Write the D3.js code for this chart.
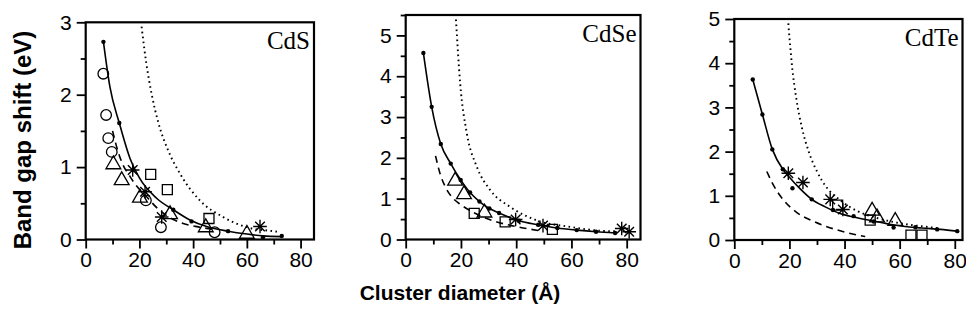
<!DOCTYPE html>
<html><head><meta charset="utf-8">
<script src="https://cdn.jsdelivr.net/npm/d3@7"></script>
<style>
html,body{margin:0;padding:0;background:#fff;}
svg{display:block;}
</style></head>
<body>
<svg id="chart" width="966" height="325"></svg>
<script>
// ---------- DATA ----------
const panelNames = ["CdS", "CdSe", "CdTe"];
const xTickValues = [0, 20, 40, 60, 80];
const xMinorTicks = [10, 30, 50, 70];
const yLabel = "Band gap shift (eV)";
const xLabel = "Cluster diameter (Å)";

// CdS
const cdsSolidX = [6.6, 9, 12.5, 16.5, 20, 26.4, 32.6, 38.8, 45, 53, 60, 66, 73];
const cdsSolidY = [2.73, 2.11, 1.61, 1.12, 0.85, 0.57, 0.41, 0.27, 0.18, 0.115, 0.075, 0.05, 0.04];
const cdsDotX = [6.6, 12.5, 32.6, 39.4, 53, 66, 73];
const cdsDotY = [2.73, 1.61, 0.41, 0.25, 0.115, 0.03, 0.05];
const cdsDashX = [10, 12, 14, 16, 18.3, 22.7, 27, 31.4, 36.3, 42.6, 48.8];
const cdsDashY = [1.5, 1.22, 1.02, 0.9, 0.77, 0.59, 0.42, 0.3, 0.22, 0.17, 0.13];
const cdsDotLineX = [20.8, 22.5, 24.6, 27, 30.7, 35.1, 42.5, 51.2, 59.9, 68.6, 72.3];
const cdsDotLineY = [2.94, 2.45, 2.0, 1.62, 1.23, 0.91, 0.54, 0.31, 0.17, 0.12, 0.105];
const cdsCircleX = [6.55, 7.6, 8.4, 9.7, 22.4, 28, 48];
const cdsCircleY = [2.29, 1.72, 1.4, 1.21, 0.54, 0.17, 0.1];
const cdsTriangleX = [10.3, 13.4, 20.2, 31.4, 44.7, 60];
const cdsTriangleY = [1.05, 0.83, 0.59, 0.36, 0.18, 0.09];
const cdsSquareX = [24.2, 30.4, 45.9];
const cdsSquareY = [0.9, 0.69, 0.29];
const cdsStarX = [17.5, 22.1, 28.3, 64.9];
const cdsStarY = [0.96, 0.66, 0.31, 0.18];

// CdSe
const cdseSolidX = [6.4, 9.4, 12.7, 16.3, 19.9, 23.3, 26.7, 30.3, 33.8, 41, 48, 54.9, 61.9, 68.9, 75.8];
const cdseSolidY = [4.57, 3.25, 2.34, 1.86, 1.46, 1.15, 0.93, 0.76, 0.65, 0.46, 0.36, 0.28, 0.23, 0.19, 0.16];
const cdseDotX = cdseSolidX;
const cdseDotY = cdseSolidY;
const cdseDashX = [10.8, 12.5, 14.5, 17, 20, 24, 28, 32, 37, 42, 48];
const cdseDashY = [2.05, 1.6, 1.27, 1.02, 0.85, 0.68, 0.55, 0.45, 0.36, 0.29, 0.22];
const cdseDotLineX = [18.2, 19.7, 22.1, 25.7, 30.6, 37.8, 47.4, 59.5, 71.5, 77];
const cdseDotLineY = [5.39, 3.84, 2.61, 1.79, 1.21, 0.8, 0.47, 0.31, 0.21, 0.2];
const cdseCircleX = [];
const cdseCircleY = [];
const cdseTriangleX = [17.9, 21.1, 28.5];
const cdseTriangleY = [1.46, 1.13, 0.68];
const cdseSquareX = [24.8, 36.0, 53.1];
const cdseSquareY = [0.64, 0.43, 0.25];
const cdseStarX = [39.8, 49.7, 78.2, 80.9];
const cdseStarY = [0.49, 0.34, 0.27, 0.19];

// CdTe
const cdteSolidX = [6.7, 10.2, 13.8, 17.6, 20, 24, 28.1, 33, 38.4, 43.3, 50.6, 57, 62.7, 68, 74.8, 80.9];
const cdteSolidY = [3.63, 2.84, 2.05, 1.6, 1.42, 1.15, 0.92, 0.75, 0.6, 0.52, 0.43, 0.35, 0.3, 0.27, 0.24, 0.2];
const cdteDotX = [6.7, 10.2, 13.8, 17.6, 21.1, 28.1, 35.8, 43.3, 50.6, 57.8, 65.7, 73.6, 80.9];
const cdteDotY = [3.63, 2.84, 2.05, 1.6, 1.17, 0.92, 0.68, 0.54, 0.42, 0.28, 0.29, 0.24, 0.2];
const cdteDashX = [11.8, 14.2, 17.9, 22.7, 28.1, 33.6, 38.4, 43.3, 47.5];
const cdteDashY = [1.55, 1.24, 0.9, 0.62, 0.44, 0.3, 0.21, 0.13, 0.08];
const cdteDotLineX = [19.6, 21, 22.5, 24.5, 27, 30, 34, 38.4, 44.5, 50.5, 56, 62, 68, 74];
const cdteDotLineY = [4.9, 3.9, 3.2, 2.55, 2.0, 1.55, 1.15, 0.9, 0.66, 0.52, 0.43, 0.36, 0.31, 0.27];
const cdteCircleX = [];
const cdteCircleY = [];
const cdteTriangleX = [50, 51.8, 58.4];
const cdteTriangleY = [0.68, 0.53, 0.45];
const cdteSquareX = [37.5, 49.3, 64.1, 68.1];
const cdteSquareY = [0.79, 0.45, 0.11, 0.11];
const cdteStarX = [19.6, 24.9, 34.8, 39.4];
const cdteStarY = [1.51, 1.3, 0.92, 0.69];

const yMaxes = [3, 5.5, 5];
const xMaxes = [85, 85, 82.8];

// ---------- LAYOUT ----------
const boxes = [
  {left: 85.7, right: 314, top: 22.3, bottom: 239.5},
  {left: 405.7, right: 640.5, top: 15, bottom: 239.5},
  {left: 734.3, right: 962.5, top: 19, bottom: 240}
];

const zip = (xs, ys) => xs.map((x, i) => ({x, y: ys[i]}));
const panelData = [
  {solid: zip(cdsSolidX, cdsSolidY), dots: zip(cdsDotX, cdsDotY), dash: zip(cdsDashX, cdsDashY), dotted: zip(cdsDotLineX, cdsDotLineY),
   circles: zip(cdsCircleX, cdsCircleY), triangles: zip(cdsTriangleX, cdsTriangleY), squares: zip(cdsSquareX, cdsSquareY), stars: zip(cdsStarX, cdsStarY)},
  {solid: zip(cdseSolidX, cdseSolidY), dots: zip(cdseDotX, cdseDotY), dash: zip(cdseDashX, cdseDashY), dotted: zip(cdseDotLineX, cdseDotLineY),
   circles: zip(cdseCircleX, cdseCircleY), triangles: zip(cdseTriangleX, cdseTriangleY), squares: zip(cdseSquareX, cdseSquareY), stars: zip(cdseStarX, cdseStarY)},
  {solid: zip(cdteSolidX, cdteSolidY), dots: zip(cdteDotX, cdteDotY), dash: zip(cdteDashX, cdteDashY), dotted: zip(cdteDotLineX, cdteDotLineY),
   circles: zip(cdteCircleX, cdteCircleY), triangles: zip(cdteTriangleX, cdteTriangleY), squares: zip(cdteSquareX, cdteSquareY), stars: zip(cdteStarX, cdteStarY)}
];

const svg = d3.select("#chart");
const sans = "'Liberation Sans', Arial, Helvetica, sans-serif";
const serif = "'Liberation Serif', 'Times New Roman', serif";

panelNames.forEach((name, i) => {
  const b = boxes[i];
  const d = panelData[i];
  const x = d3.scaleLinear().domain([0, xMaxes[i]]).range([b.left, b.right]);
  const y = d3.scaleLinear().domain([0, yMaxes[i]]).range([b.bottom, b.top]);
  const g = svg.append("g");

  // frame
  g.append("rect").attr("x", b.left).attr("y", b.top)
    .attr("width", b.right - b.left).attr("height", b.bottom - b.top)
    .attr("fill", "none").attr("stroke", "#000").attr("stroke-width", 2.2);

  // x axis
  const xAxis = d3.axisBottom(x).tickValues(xTickValues).tickSize(9).tickPadding(4).tickFormat(d3.format("d"));
  const xa = g.append("g").attr("transform", `translate(0,${b.bottom})`).call(xAxis);
  const xMinor = d3.axisBottom(x).tickValues(xMinorTicks).tickSize(5).tickFormat("");
  const xm = g.append("g").attr("transform", `translate(0,${b.bottom})`).call(xMinor);

  // y axis
  const yMajor = d3.range(0, Math.floor(yMaxes[i]) + 1);
  const yMinor = d3.range(0.5, yMaxes[i] + 0.01, 1);
  const yAxis = d3.axisLeft(y).tickValues(yMajor).tickSize(9).tickPadding(5).tickFormat(d3.format("d"));
  const ya = g.append("g").attr("transform", `translate(${b.left},0)`).call(yAxis);
  const ym = g.append("g").attr("transform", `translate(${b.left},0)`).call(d3.axisLeft(y).tickValues(yMinor).tickSize(5).tickFormat(""));

  [xa, xm, ya, ym].forEach(a => {
    a.attr("font-size", null).attr("font-family", null);
    a.select(".domain").remove();
    a.selectAll(".tick line").attr("stroke", "#000").attr("stroke-width", 1.8);
    a.selectAll(".tick text").style("font-family", sans).style("font-size", "21px").attr("fill", "#000");
  });

  const line = d3.line().x(p => x(p.x)).y(p => y(p.y)).curve(d3.curveMonotoneX);

  g.append("path").datum(d.dotted).attr("d", line).attr("fill", "none")
    .attr("stroke", "#000").attr("stroke-width", 1.9).attr("stroke-dasharray", "1.6 3.4");
  g.append("path").datum(d.dash).attr("d", line).attr("fill", "none")
    .attr("stroke", "#000").attr("stroke-width", 1.6).attr("stroke-dasharray", "7 5");
  g.append("path").datum(d.solid).attr("d", line).attr("fill", "none")
    .attr("stroke", "#000").attr("stroke-width", 1.6);
  g.selectAll(".dot").data(d.dots).join("circle")
    .attr("cx", p => x(p.x)).attr("cy", p => y(p.y)).attr("r", 2.2).attr("fill", "#000");

  const sym = (type, size) => d3.symbol().type(type).size(size)();
  const markStyle = s => s.attr("fill", "none").attr("stroke", "#000").attr("stroke-width", 1.3);

  g.selectAll(".circ").data(d.circles).join("circle")
    .attr("cx", p => x(p.x)).attr("cy", p => y(p.y)).attr("r", 5.3).call(markStyle);
  g.selectAll(".tri").data(d.triangles).join("path")
    .attr("transform", p => `translate(${x(p.x)},${y(p.y) + 1})`)
    .attr("d", sym(d3.symbolTriangle, 95)).call(markStyle);
  g.selectAll(".sq").data(d.squares).join("path")
    .attr("transform", p => `translate(${x(p.x)},${y(p.y)})`)
    .attr("d", sym(d3.symbolSquare, 100)).call(markStyle);
  const starPath = (() => {
    const r = 6.8; let s = "";
    for (let k = 0; k < 4; k++) {
      const a = k * Math.PI / 4;
      const dx = r * Math.cos(a), dy = r * Math.sin(a);
      s += `M${-dx},${-dy}L${dx},${dy}`;
    }
    return s;
  })();
  g.selectAll(".star").data(d.stars).join("path")
    .attr("transform", p => `translate(${x(p.x)},${y(p.y)})`)
    .attr("d", starPath).attr("fill", "none").attr("stroke", "#000").attr("stroke-width", 1.4);

  // title
  g.append("text").attr("x", b.right - 4).attr("y", b.top + 27)
    .attr("text-anchor", "end").attr("font-family", serif).attr("font-size", 25)
    .attr("fill", "#000").text(name);
});

svg.append("text").attr("transform", "translate(31,140) rotate(-90)")
  .attr("text-anchor", "middle").attr("font-family", sans).attr("font-weight", "bold")
  .attr("font-size", 24).attr("fill", "#000").text(yLabel);

svg.append("text").attr("x", 460).attr("y", 300)
  .attr("text-anchor", "middle").attr("font-family", sans).attr("font-weight", "bold")
  .attr("font-size", 21).attr("fill", "#000").text(xLabel);
</script>
</body></html>
